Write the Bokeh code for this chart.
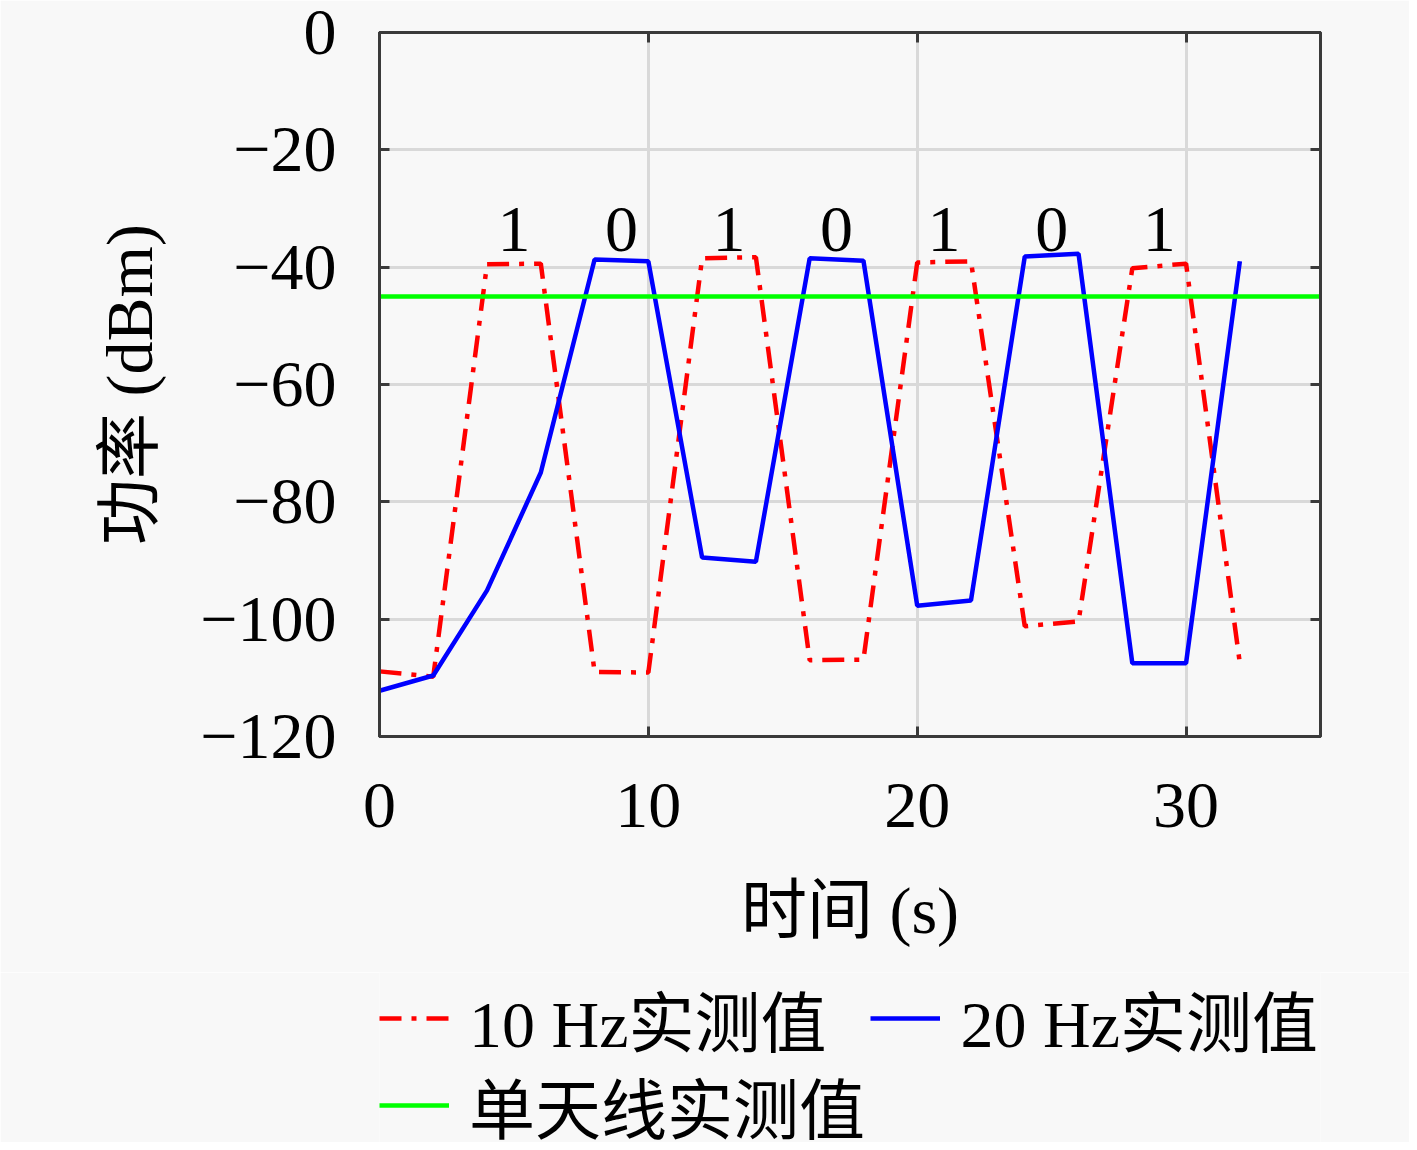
from bokeh.plotting import figure
from bokeh.layouts import column
from bokeh.models import Range1d, LinearAxis, FixedTicker, Legend, LegendItem, ColumnDataSource
from bokeh.core.properties import value
from bokeh.embed import file_html
from bokeh.resources import INLINE

# ---- data ----
time_s = [0, 2, 4, 6, 8, 10, 12, 14, 16, 18, 20, 22, 24, 26, 28, 30, 32]
power_10hz = [-108.9, -109.8, -39.5, -39.4, -109.0, -109.1, -38.5, -38.3, -107.0,
              -106.9, -39.2, -39.0, -101.2, -100.4, -40.2, -39.4, -107.5]
power_20hz = [-112.2, -109.6, -95.1, -75.0, -38.7, -39.0, -89.5, -90.2, -38.5,
              -38.9, -97.7, -96.8, -38.2, -37.7, -107.5, -107.5, -39.0]
single_antenna_dbm = -45.0

bit_x = [5, 9, 13, 17, 21, 25, 29]
bit_y = [-33.5, -33.5, -33.5, -33.5, -33.5, -33.5, -33.5]
bit_labels = ["1", "0", "1", "0", "1", "0", "1"]

x_limits = [0, 35]
y_limits = [-120, 0]
x_ticks = [0, 10, 20, 30]
x_tick_labels = ["0", "10", "20", "30"]
y_ticks = [0, -20, -40, -60, -80, -100, -120]
y_tick_labels = ["0", "\u221220", "\u221240", "\u221260", "\u221280", "\u2212100", "\u2212120"]

legend_labels = ["10 Hz实测值", "20 Hz实测值", "单天线实测值"]
x_label = "时间 (s)"
y_label = "功率 (dBm)"

# ---- styling ----
FONT = "'Liberation Serif', 'Noto Sans CJK SC'"
FS = "66px"
BG = "#f8f8f8"
AX = "#3a3a3a"
RED, BLUE, GREEN = "#ff0000", "#0000ff", "#00ff00"
DASHDOT = "22 10 5 10"
LW = 4.5

p = figure(frame_width=941, frame_height=704,
           min_border_left=379, min_border_right=89, min_border_top=32, min_border_bottom=236,
           x_range=Range1d(*x_limits), y_range=Range1d(*y_limits),
           output_backend="svg", toolbar_location=None,
           background_fill_color=BG, border_fill_color=BG)

p.outline_line_color = AX
p.outline_line_width = 3

for ax, ticks, labels in ((p.xaxis[0], x_ticks, x_tick_labels), (p.yaxis[0], y_ticks, y_tick_labels)):
    ax.ticker = FixedTicker(ticks=ticks)
    ax.major_label_overrides = {t: l for t, l in zip(ticks, labels)}
    ax.major_label_text_font = FONT
    ax.major_label_text_font_size = FS
    ax.major_label_text_color = "black"
    ax.axis_label_text_font = FONT
    ax.axis_label_text_font_size = FS
    ax.axis_label_text_font_style = "normal"
    ax.axis_label_text_color = "black"
    ax.axis_line_color = AX
    ax.axis_line_width = 3
    ax.major_tick_line_color = AX
    ax.major_tick_line_width = 3
    ax.major_tick_in = 10
    ax.major_tick_out = 0
    ax.minor_tick_line_color = None

p.xaxis[0].axis_label = x_label
p.yaxis[0].axis_label = y_label
p.xaxis[0].major_label_standoff = 47
p.xaxis[0].axis_label_standoff = 44
p.yaxis[0].major_label_standoff = 43
p.yaxis[0].axis_label_standoff = 31

for side, ticks in (("above", x_ticks), ("right", y_ticks)):
    ax = LinearAxis(ticker=FixedTicker(ticks=ticks))
    ax.major_label_text_font_size = "8px"
    ax.major_label_text_color = None
    ax.major_label_standoff = 0
    ax.axis_line_color = AX
    ax.axis_line_width = 3
    ax.major_tick_line_color = AX
    ax.major_tick_line_width = 3
    ax.major_tick_in = 10
    ax.major_tick_out = 0
    ax.minor_tick_line_color = None
    p.add_layout(ax, side)

p.xgrid.ticker = FixedTicker(ticks=x_ticks)
p.ygrid.ticker = FixedTicker(ticks=y_ticks)
p.grid.grid_line_color = "#d9d9d9"
p.grid.grid_line_width = 3

p.line(time_s, power_10hz, line_color=RED, line_width=LW, line_dash=DASHDOT)
p.line(time_s, power_20hz, line_color=BLUE, line_width=LW)
p.line(x_limits, [single_antenna_dbm, single_antenna_dbm], line_color=GREEN, line_width=LW)

src = ColumnDataSource(dict(x=bit_x, y=bit_y, t=bit_labels))
p.text(x="x", y="y", text="t", source=src, text_font=value(FONT), text_font_size=FS,
       text_align="center", text_baseline="middle", text_color="black")

# ---- legend strip below the chart ----
lg = figure(frame_width=941, frame_height=170,
            min_border_left=379, min_border_right=89, min_border_top=0, min_border_bottom=0,
            x_range=Range1d(*x_limits), y_range=Range1d(*y_limits),
            output_backend="svg", toolbar_location=None,
            background_fill_color=BG, border_fill_color=BG, outline_line_color=None)
lg.axis.visible = False
lg.grid.visible = False
g10 = lg.line(time_s, power_10hz, line_color=RED, line_width=LW, line_dash=DASHDOT, visible=False)
g20 = lg.line(time_s, power_20hz, line_color=BLUE, line_width=LW, visible=False)
gsa = lg.line(x_limits, [single_antenna_dbm, single_antenna_dbm], line_color=GREEN, line_width=LW, visible=False)

common = dict(label_text_font=FONT, label_text_font_size=FS, label_text_color="black",
              glyph_width=70, glyph_height=40, label_standoff=20,
              padding=0, margin=0, border_line_color=None, background_fill_alpha=0,
              inactive_fill_alpha=0)
legend_row1 = Legend(items=[LegendItem(label=legend_labels[0], renderers=[g10]),
                            LegendItem(label=legend_labels[1], renderers=[g20])],
                     orientation="horizontal", spacing=44, location=(0, 76), **common)
legend_row2 = Legend(items=[LegendItem(label=legend_labels[2], renderers=[gsa])],
                     orientation="horizontal", spacing=0, location=(0, -11), **common)
lg.add_layout(legend_row1, "center")
lg.add_layout(legend_row2, "center")

open("out.html", "w").write(file_html(column(p, lg, spacing=0), INLINE))
